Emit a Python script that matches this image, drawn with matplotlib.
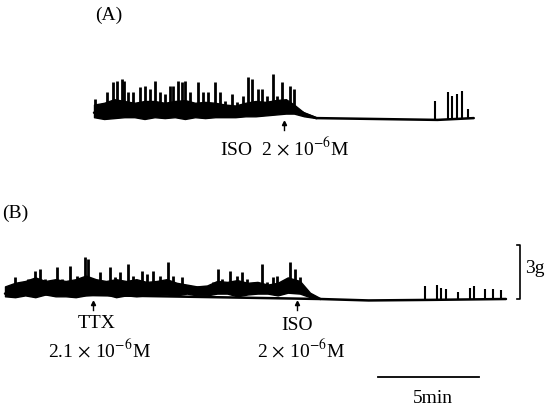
import numpy as np
import matplotlib
matplotlib.use('Agg')
import matplotlib.pyplot as plt

plt.rcParams['font.family'] = ['Liberation Serif', 'DejaVu Serif']
plt.rcParams['mathtext.fontset'] = 'stix'

# ---- trace A (time in min from start of record, force in g) ----
a_band_t = [0, 0.5, 1, 1.5, 2, 2.5, 3, 3.5, 4, 4.5, 5, 5.5, 6, 6.5, 7, 7.5,
            8, 8.5, 9, 9.5, 9.9, 10.4, 11.0]
a_band_lo = [0.1, 0.0, 0.05, 0.1, 0.1, 0.0, 0.1, 0.05, 0.1, 0.0, 0.1, 0.05,
             0.1, 0.1, 0.1, 0.15, 0.15, 0.2, 0.25, 0.3, 0.3, 0.15, 0.05]
a_band_hi = [0.8, 0.9, 1.1, 1.0, 0.9, 1.0, 1.0, 0.9, 1.0, 1.05, 0.9, 0.95,
             0.9, 0.8, 0.75, 0.9, 1.0, 0.95, 1.05, 1.1, 0.8, 0.35, 0.1]
a_base_t = [0, 10, 11, 14, 17, 18.8]
a_base_g = [0.35, 0.5, 0.05, 0.0, -0.05, 0.05]
a_spike_t = [0.05, 0.63, 0.96, 1.12, 1.37, 1.50, 1.70, 1.95, 2.28, 2.52, 2.77,
             3.02, 3.27, 3.51, 3.76, 3.93, 4.17, 4.34, 4.50, 4.75, 5.16, 5.41,
             5.66, 5.99, 6.24, 6.49, 6.82, 7.07, 7.39, 7.64, 7.81, 8.13, 8.30,
             8.55, 8.88, 9.04, 9.29, 9.70, 9.90]
a_spike_g = [1.11, 1.5, 2.06, 2.11, 2.22, 2.11, 1.5, 1.5, 1.78, 1.83, 1.67,
             2.11, 1.5, 1.39, 1.83, 1.83, 2.11, 2.06, 2.11, 1.5, 2.06, 1.5,
             1.5, 2.06, 1.5, 1.0, 1.39, 0.94, 1.28, 2.33, 2.22, 1.67, 1.67,
             1.28, 2.5, 1.28, 2.06, 1.83, 1.67]
a_late_t = [16.88, 17.52, 17.72, 17.97, 18.22, 18.51]
a_late_g = [1.0, 1.5, 1.28, 1.39, 1.56, 0.56]
a_iso_t = 9.4

# ---- trace B ----
b_band_t = [0, 0.5, 1, 1.5, 2, 2.5, 3, 3.5, 4, 4.5, 5, 5.5, 6, 6.5, 7, 7.5,
            8, 8.5, 9, 9.5, 10, 10.5, 11, 11.5, 12, 12.5, 13, 13.5, 14, 14.6,
            15.1, 15.6]
b_band_lo = [0.15, 0.1, 0.2, 0.1, 0.25, 0.15, 0.15, 0.1, 0.2, 0.25, 0.25, 0.1,
             0.2, 0.15, 0.2, 0.25, 0.25, 0.2, 0.3, 0.2, 0.2, 0.3, 0.3, 0.15,
             0.25, 0.3, 0.3, 0.2, 0.35, 0.3, 0.1, 0.0]
b_band_hi = [0.7, 0.9, 1.0, 1.2, 1.0, 1.1, 1.0, 1.1, 1.3, 1.1, 1.0, 1.1,
             1.0, 1.1, 0.95, 1.0, 1.1, 0.9, 0.8, 0.7, 0.75, 1.0, 0.95, 1.05,
             0.9, 0.95, 0.8, 0.9, 1.2, 1.0, 0.35, 0.05]
b_base_t = [0, 15.6, 18, 21, 24.8]
b_base_g = [0.3, 0.0, -0.08, -0.05, 0.0]
b_spike_t = [0.50, 1.15, 1.49, 1.73, 1.98, 2.56, 2.81, 3.22, 3.55, 3.96, 4.12,
             4.70, 5.20, 5.45, 5.69, 6.10, 6.35, 6.77, 7.01, 7.34, 7.67, 8.08,
             8.33, 8.75, 9.49, 9.90, 10.31, 10.56, 10.73, 11.14, 11.47, 11.72,
             11.96, 12.71, 12.95, 13.28, 13.45, 14.11, 14.36, 14.60]
b_spike_g = [1.2, 1.11, 1.57, 1.67, 1.11, 1.76, 1.11, 1.85, 1.30, 2.32, 2.22,
             1.48, 1.76, 1.20, 1.48, 1.94, 1.30, 1.57, 1.39, 1.57, 1.30, 2.04,
             1.30, 1.20, 0.74, 0.74, 0.93, 1.67, 1.11, 1.57, 1.30, 1.48,
             1.11, 1.94, 0.93, 1.20, 1.30, 2.04, 1.67, 1.20]
b_late_t = [20.79, 21.39, 21.58, 21.83, 22.43, 23.02, 23.22, 23.76, 24.16, 24.55]
b_late_g = [0.72, 0.78, 0.61, 0.56, 0.39, 0.61, 0.72, 0.56, 0.56, 0.50]
b_ttx_t = 4.36
b_iso_t = 14.46

PX_MIN = 20.2   # pixels per minute
PX_G = 18.0     # pixels per gram
W, H = 548, 406

fig = plt.figure(figsize=(W / 100, H / 100), dpi=100)

def trace_axes(x0, y0):
    # full-figure axes, time 0 at pixel x0, 0 g at pixel y0 (from top)
    ax = fig.add_axes([0, 0, 1, 1])
    ax.set_xlim(-x0 / PX_MIN, (W - x0) / PX_MIN)
    ax.set_ylim(-(H - y0) / PX_G, y0 / PX_G)
    ax.axis('off')
    ax.patch.set_alpha(0)
    return ax

def draw_trace(ax, bt, lo, hi, st, sg, lt, lg, ct, cg):
    ax.fill_between(bt, lo, hi, color='black', lw=1.0, edgecolor='black')
    ax.plot(ct, cg, color='black', lw=1.8, solid_capstyle='round')
    ax.vlines(st, 0.4, sg, color='black', lw=2.0)
    ax.vlines(lt, 0.0, lg, color='black', lw=1.5)

def marker(ax, t):
    ax.plot([t, t], [-0.15, -0.6], color='black', lw=1.0)
    ax.plot([t], [-0.2], marker='^', ms=3, color='black')

txt = dict(fontsize=14, color='black')

axA = trace_axes(94, 120)
draw_trace(axA, a_band_t, a_band_lo, a_band_hi, a_spike_t, a_spike_g,
           a_late_t, a_late_g, a_base_t, a_base_g)
marker(axA, a_iso_t)
axA.text(a_iso_t + 0.05, -1.55, r'ISO  2$\,\times\,$10$^{-6}$M', ha='center', va='center', **txt)
axA.text(0.75, 5.83, '(A)', ha='center', va='center', **txt)

axB = trace_axes(5, 300)
draw_trace(axB, b_band_t, b_band_lo, b_band_hi, b_spike_t, b_spike_g,
           b_late_t, b_late_g, b_base_t, b_base_g)
marker(axB, b_ttx_t)
marker(axB, b_iso_t)
axB.text(b_ttx_t + 0.2, -1.3, 'TTX', ha='center', va='center', **txt)
axB.text(b_ttx_t + 0.3, -2.8, r'2.1$\,\times\,$10$^{-6}$M', ha='center', va='center', **txt)
axB.text(b_iso_t, -1.4, 'ISO', ha='center', va='center', **txt)
axB.text(b_iso_t + 0.2, -2.8, r'2$\,\times\,$10$^{-6}$M', ha='center', va='center', **txt)
axB.text(-0.15, 4.83, '(B)', ha='left', va='center', **txt)

# scale bars: 5 min and 3 g
bar_t0 = 18.47
axB.plot([bar_t0, bar_t0 + 5], [-4.33, -4.33], color='black', lw=1.3)
axB.text(bar_t0 + 2.7, -5.45, '5min', ha='center', va='center', **txt)
bar_x = 25.5
axB.plot([bar_x - 0.15, bar_x, bar_x, bar_x - 0.15], [3, 3, 0, 0], color='black', lw=1.2)
axB.text(bar_x + 0.25, 1.75, '3g', ha='left', va='center', **txt)

fig.savefig('out.png', dpi=100)
